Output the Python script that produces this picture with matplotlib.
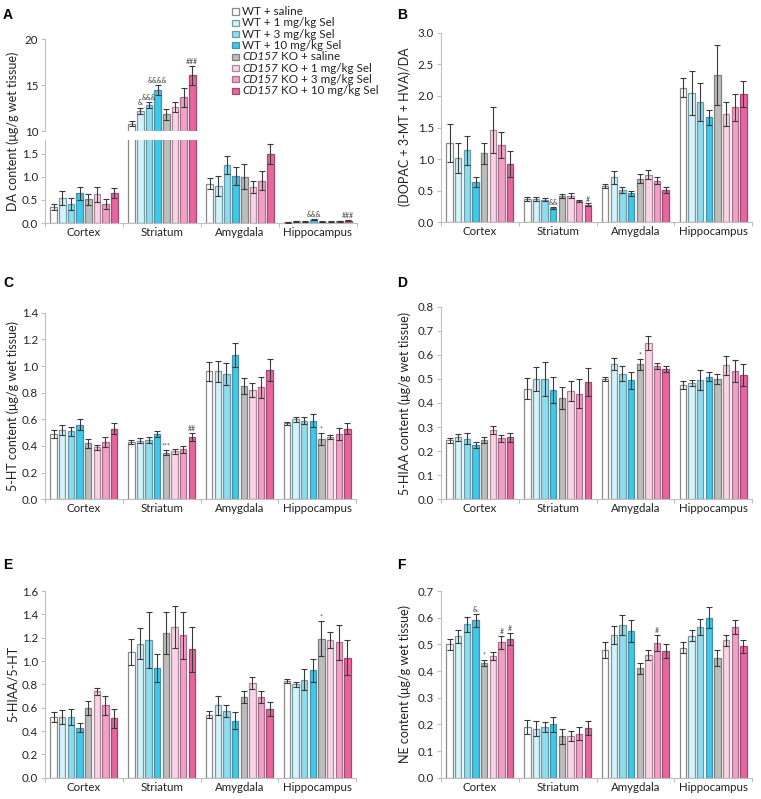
import numpy as np
import matplotlib
matplotlib.use("Agg")
import matplotlib.pyplot as plt
from matplotlib.patches import Rectangle
from matplotlib import font_manager as fm
from matplotlib.offsetbox import HPacker, TextArea, DrawingArea, AnchoredOffsetbox

plt.rcParams['font.family'] = ['Lato', 'DejaVu Sans']


def italic_family():
    for fam in ['Lato', 'Open Sans', 'Noto Sans', 'Liberation Sans', 'DejaVu Sans']:
        try:
            f = fm.findfont(fm.FontProperties(family=fam, style='italic'), fallback_to_default=False)
        except Exception:
            continue
        low = f.lower()
        if ('italic' in low or 'oblique' in low) and fam.split()[0].lower() in low.replace('-', ' ').replace('_', ' '):
            return fam
    return 'DejaVu Sans'


IT_FAM = italic_family()

regions = ["Cortex", "Striatum", "Amygdala", "Hippocampus"]
group_prefix = ["", "", "", "", "CD157", "CD157", "CD157", "CD157"]
group_rest = ["WT + saline", "WT + 1 mg/kg Sel", "WT + 3 mg/kg Sel", "WT + 10 mg/kg Sel",
              " KO + saline", " KO + 1 mg/kg Sel", " KO + 3 mg/kg Sel", " KO + 10 mg/kg Sel"]
face_colors = ["#ffffff", "#d2f3fb", "#8fdcee", "#3ec8ea", "#bdbdbd", "#f9d3e6", "#f1a0c8", "#e9659f"]
edge_colors = ["#8a8a8a", "#7a9aa2", "#6a9aa6", "#4a8fa2", "#808080", "#a88a98", "#a8708a", "#a04a72"]

# values[region][group], errors likewise
da_mean = [[0.35, 0.55, 0.42, 0.64, 0.51, 0.62, 0.41, 0.65],
           [10.8, 12.2, 12.8, 14.45, 11.8, 12.6, 13.65, 16.05],
           [0.85, 0.80, 1.26, 1.02, 1.00, 0.78, 0.92, 1.50],
           [0.02, 0.04, 0.03, 0.07, 0.03, 0.03, 0.04, 0.05]]
da_err = [[0.07, 0.15, 0.13, 0.15, 0.12, 0.16, 0.10, 0.10],
          [0.3, 0.35, 0.3, 0.5, 0.6, 0.5, 1.0, 1.0],
          [0.12, 0.22, 0.20, 0.19, 0.27, 0.13, 0.20, 0.21],
          [0.01, 0.01, 0.01, 0.01, 0.01, 0.01, 0.01, 0.01]]

ratio_mean = [[1.26, 1.02, 1.14, 0.64, 1.09, 1.46, 1.22, 0.92],
              [0.37, 0.37, 0.36, 0.23, 0.41, 0.42, 0.34, 0.28],
              [0.58, 0.71, 0.51, 0.46, 0.69, 0.75, 0.66, 0.51],
              [2.13, 2.04, 1.91, 1.66, 2.33, 1.71, 1.82, 2.03]]
ratio_err = [[0.30, 0.24, 0.23, 0.08, 0.17, 0.37, 0.21, 0.21],
             [0.03, 0.03, 0.03, 0.02, 0.03, 0.04, 0.02, 0.02],
             [0.03, 0.10, 0.05, 0.04, 0.07, 0.07, 0.05, 0.05],
             [0.15, 0.35, 0.30, 0.12, 0.47, 0.19, 0.21, 0.21]]

ht_mean = [[0.49, 0.52, 0.51, 0.56, 0.42, 0.39, 0.43, 0.53],
           [0.43, 0.44, 0.445, 0.49, 0.35, 0.36, 0.375, 0.47],
           [0.96, 0.96, 0.94, 1.08, 0.85, 0.82, 0.84, 0.97],
           [0.57, 0.60, 0.59, 0.59, 0.45, 0.47, 0.49, 0.53]]
ht_err = [[0.03, 0.04, 0.035, 0.04, 0.035, 0.02, 0.04, 0.04],
          [0.015, 0.02, 0.025, 0.02, 0.02, 0.02, 0.025, 0.03],
          [0.07, 0.08, 0.08, 0.09, 0.06, 0.05, 0.08, 0.08],
          [0.01, 0.02, 0.025, 0.05, 0.045, 0.015, 0.045, 0.04]]

hiaa_mean = [[0.245, 0.257, 0.252, 0.227, 0.245, 0.288, 0.253, 0.257],
             [0.46, 0.50, 0.50, 0.455, 0.42, 0.45, 0.438, 0.487],
             [0.50, 0.56, 0.522, 0.495, 0.56, 0.65, 0.553, 0.54],
             [0.475, 0.482, 0.495, 0.51, 0.50, 0.557, 0.533, 0.515]]
hiaa_err = [[0.01, 0.013, 0.023, 0.013, 0.013, 0.016, 0.016, 0.018],
            [0.045, 0.05, 0.07, 0.055, 0.045, 0.04, 0.06, 0.058],
            [0.01, 0.025, 0.03, 0.035, 0.022, 0.03, 0.012, 0.012],
            [0.015, 0.012, 0.04, 0.02, 0.022, 0.04, 0.045, 0.045]]

turn_mean = [[0.52, 0.52, 0.52, 0.43, 0.60, 0.74, 0.62, 0.51],
             [1.08, 1.15, 1.18, 0.94, 1.24, 1.29, 1.22, 1.10],
             [0.54, 0.62, 0.57, 0.49, 0.69, 0.81, 0.69, 0.59],
             [0.83, 0.80, 0.84, 0.92, 1.19, 1.18, 1.16, 1.03]]
turn_err = [[0.04, 0.06, 0.07, 0.04, 0.06, 0.03, 0.08, 0.08],
            [0.11, 0.13, 0.24, 0.12, 0.18, 0.18, 0.20, 0.19],
            [0.03, 0.08, 0.05, 0.07, 0.05, 0.05, 0.05, 0.06],
            [0.02, 0.02, 0.09, 0.10, 0.15, 0.07, 0.15, 0.15]]

ne_mean = [[0.50, 0.53, 0.575, 0.59, 0.43, 0.455, 0.507, 0.52],
           [0.19, 0.183, 0.19, 0.20, 0.155, 0.157, 0.165, 0.185],
           [0.48, 0.535, 0.573, 0.55, 0.41, 0.46, 0.505, 0.475],
           [0.488, 0.533, 0.565, 0.60, 0.45, 0.515, 0.565, 0.492]]
ne_err = [[0.02, 0.025, 0.027, 0.025, 0.012, 0.015, 0.023, 0.023],
          [0.025, 0.028, 0.018, 0.028, 0.027, 0.018, 0.025, 0.026],
          [0.03, 0.035, 0.038, 0.04, 0.02, 0.02, 0.03, 0.025],
          [0.022, 0.022, 0.03, 0.04, 0.03, 0.02, 0.025, 0.026]]

# annotations: (region index, group index, text)
da_marks = [(1, 1, "&"), (1, 2, "&&&"), (1, 3, "&&&&"), (1, 7, "###"), (3, 3, "&&&"), (3, 7, "###")]
ratio_marks = [(1, 3, "&&"), (1, 7, "#")]
ht_marks = [(1, 4, "***"), (1, 7, "##"), (3, 4, "*")]
hiaa_marks = [(2, 4, "*")]
turn_marks = [(3, 4, "*")]
ne_marks = [(0, 3, "&"), (0, 4, "*"), (0, 6, "#"), (0, 7, "#"), (2, 6, "#")]

W, H = 761, 799
fig = plt.figure(figsize=(W / 100, H / 100), dpi=100)

SPINE = "#bfbfbf"
TXT = "#222222"
FS = 8.3
MFS = 5.0
slot = 0.111
bw = 0.082
n_groups = len(face_colors)


def add_ax(left, right, top, bottom):
    return fig.add_axes([left / W, 1 - bottom / H, (right - left) / W, (bottom - top) / H])


def style(ax, show_x=True):
    for s in ["top", "right"]:
        ax.spines[s].set_visible(False)
    ax.spines["left"].set_color(SPINE)
    ax.spines["bottom"].set_color(SPINE)
    ax.tick_params(axis="y", colors=SPINE, labelcolor=TXT, labelsize=FS, length=3, width=0.8, pad=2)
    ax.set_xlim(-0.5, 3.5)
    if show_x:
        ax.set_xticks([0, 1, 2, 3])
        ax.set_xticklabels(regions, fontsize=FS, color=TXT)
        ax.tick_params(axis="x", which="major", length=0, pad=3)
        ax.set_xticks([-0.5, 0.5, 1.5, 2.5, 3.5], minor=True)
        ax.tick_params(axis="x", which="minor", length=3, colors=SPINE, width=0.8)
    else:
        ax.spines["bottom"].set_visible(False)
        ax.set_xticks([])


def draw_bars(ax, mean, err, marks, mark_off):
    mean = np.array(mean)
    err = np.array(err)
    x0 = np.arange(len(regions))
    for j in range(n_groups):
        xs = x0 + (j - 3.5) * slot
        ax.bar(xs, mean[:, j], width=bw, color=face_colors[j], edgecolor=edge_colors[j],
               linewidth=0.9, zorder=2)
        ax.errorbar(xs, mean[:, j], yerr=err[:, j], fmt="none", ecolor="#3a3a3a",
                    elinewidth=0.8, capsize=2, capthick=0.8, zorder=3)
    for (r, g, t) in marks:
        xs = r + (g - 3.5) * slot
        y = mean[r, g] + err[r, g] + mark_off
        ax.text(xs, y, t, ha="center", va="bottom", fontsize=MFS, color="#444444", zorder=4)


def ylabel(x, y, text):
    fig.text(x / W, 1 - y / H, text, rotation=90, ha="center", va="center", fontsize=FS + 0.7, color=TXT)


def letter(x, y, t):
    fig.text(x / W, 1 - y / H, t, fontsize=10, fontweight="bold", ha="left", va="center", family="Liberation Sans")

# ---- Panel A (broken axis)
axA_lo = add_ax(45, 357, 140, 223)
axA_hi = add_ax(45, 357, 39, 131)
for ax in (axA_lo, axA_hi):
    draw_bars(ax, da_mean, da_err, [], 0)
style(axA_lo)
style(axA_hi, show_x=False)
axA_lo.set_ylim(0, 1.8)
axA_lo.set_yticks([0, 0.5, 1.0, 1.5])
axA_lo.set_yticklabels(["0.0", "0.5", "1.0", "1.5"])
axA_hi.set_ylim(10, 20)
axA_hi.set_yticks([10, 15, 20])
m = np.array(da_mean); e = np.array(da_err)
for (r, g, t) in da_marks:
    ax = axA_hi if m[r, g] > 5 else axA_lo
    off = 0.15 if ax is axA_hi else 0.02
    ax.text(r + (g - 3.5) * slot, m[r, g] + e[r, g] + off, t, ha="center", va="bottom",
            fontsize=MFS, color="#444444")
ylabel(13, 131, "DA content (μg/g wet tissue)")
letter(3, 15, "A")

# legend (built row by row so that "CD157" can be italic)
LFS = 8.4
for j in range(n_groups):
    da = DrawingArea(5, 5, 0, 0)
    da.add_artist(Rectangle((0.3, 0.3), 4.4, 4.4, facecolor=face_colors[j],
                            edgecolor=edge_colors[j], linewidth=0.9))
    kids = [da]
    if group_prefix[j]:
        kids.append(TextArea(group_prefix[j], textprops=dict(fontsize=LFS, color=TXT,
                                                           family=IT_FAM, style="italic")))
    kids.append(TextArea(group_rest[j], textprops=dict(fontsize=LFS, color=TXT)))
    row = HPacker(children=kids, align="baseline", pad=0, sep=0)
    row = HPacker(children=[kids[0], HPacker(children=kids[1:], align="baseline", pad=0, sep=0)],
                  align="center", pad=0, sep=2.5)
    ab = AnchoredOffsetbox(loc="center left", child=row, pad=0, borderpad=0, frameon=False,
                           bbox_to_anchor=(232 / W, 1 - (11.5 + 11.3 * j) / H),
                           bbox_transform=fig.transFigure)
    fig.add_artist(ab)

# ---- Panel B
axB = add_ax(441, 752, 32.7, 222.3)
draw_bars(axB, ratio_mean, ratio_err, ratio_marks, 0.01)
style(axB)
axB.set_ylim(0, 3.0)
axB.set_yticks(np.arange(0, 3.01, 0.5))
axB.set_yticklabels([f"{v:.1f}" for v in np.arange(0, 3.01, 0.5)])
ylabel(405, 127, "(DOPAC + 3-MT + HVA)/DA")
letter(397, 15, "B")

# ---- Panel C
axC = add_ax(45, 356, 312.7, 499.3)
draw_bars(axC, ht_mean, ht_err, ht_marks, 0.005)
style(axC)
axC.set_ylim(0, 1.4)
axC.set_yticks(np.arange(0, 1.41, 0.2))
axC.set_yticklabels([f"{v:.1f}" for v in np.arange(0, 1.41, 0.2)])
ylabel(13, 406, "5-HT content (μg/g wet tissue)")
letter(3, 283, "C")

# ---- Panel D
axD = add_ax(441, 752, 306.7, 499.3)
draw_bars(axD, hiaa_mean, hiaa_err, hiaa_marks, 0.003)
style(axD)
axD.set_ylim(0, 0.8)
axD.set_yticks(np.arange(0, 0.81, 0.1))
axD.set_yticklabels([f"{v:.1f}" for v in np.arange(0, 0.81, 0.1)])
ylabel(405, 403, "5-HIAA content (μg/g wet tissue)")
letter(397, 283, "D")

# ---- Panel E
axE = add_ax(45, 356, 591, 777.7)
draw_bars(axE, turn_mean, turn_err, turn_marks, 0.01)
style(axE)
axE.set_ylim(0, 1.6)
axE.set_yticks(np.arange(0, 1.61, 0.2))
axE.set_yticklabels([f"{v:.1f}" for v in np.arange(0, 1.61, 0.2)])
ylabel(13, 684, "5-HIAA/5-HT")
letter(3, 565, "E")

# ---- Panel F
axF = add_ax(441, 752, 591, 777.7)
draw_bars(axF, ne_mean, ne_err, ne_marks, 0.004)
style(axF)
axF.set_ylim(0, 0.7)
axF.set_yticks(np.arange(0, 0.71, 0.1))
axF.set_yticklabels([f"{v:.1f}" for v in np.arange(0, 0.71, 0.1)])
ylabel(405, 684, "NE content (μg/g wet tissue)")
letter(397, 565, "F")

fig.savefig("out.png", dpi=100)
